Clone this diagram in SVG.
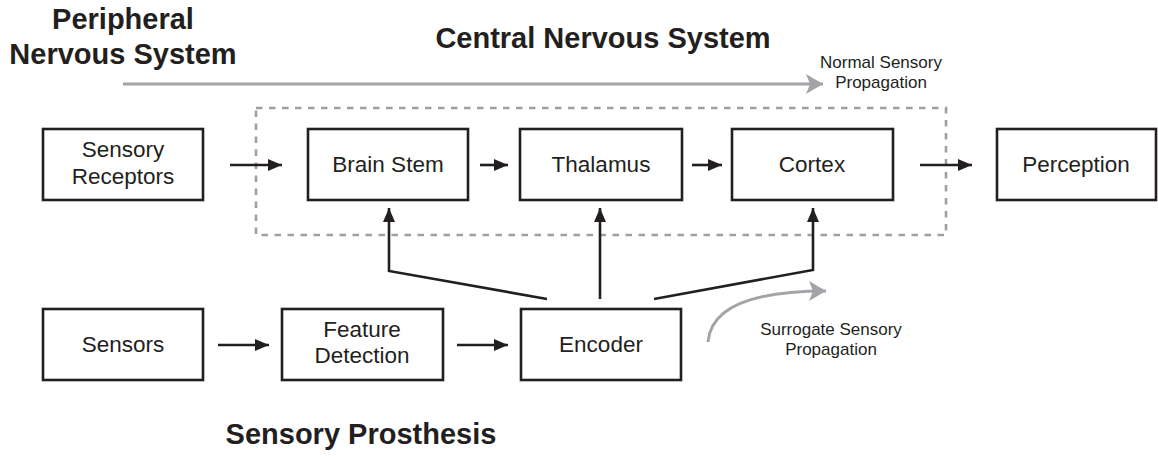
<svg xmlns="http://www.w3.org/2000/svg" width="1158" height="456" viewBox="0 0 1158 456">
<style>
.box{fill:#fff;stroke:#231f20;stroke-width:2.6}
.t{font-family:"Liberation Sans",Arial,sans-serif;font-size:22.5px;fill:#231f20;text-anchor:middle}
.s{font-family:"Liberation Sans",Arial,sans-serif;font-size:17px;fill:#231f20;text-anchor:middle}
.h{font-family:"Liberation Sans",Arial,sans-serif;font-size:29px;font-weight:bold;fill:#231f20;text-anchor:middle}
.k{fill:none;stroke:#231f20;stroke-width:2.6}
.g{fill:none;stroke:#a2a4a7;stroke-width:3}
</style>
<defs>
<marker id="ak" viewBox="0 0 14 12" refX="14" refY="6" markerWidth="14" markerHeight="12" markerUnits="userSpaceOnUse" orient="auto">
<path d="M0,0 L14,6 L0,12 z" fill="#231f20"/>
</marker>
<marker id="ag" viewBox="0 0 17 20" refX="17" refY="10" markerWidth="17" markerHeight="20" markerUnits="userSpaceOnUse" orient="auto">
<path d="M0,0 L17,10 L0,20 L4,10 z" fill="#a2a4a7"/>
</marker>
</defs>
<rect width="1158" height="456" fill="#fff"/>
<g id="titles">
<text class="h" x="123" y="29">Peripheral</text>
<text class="h" x="123" y="64">Nervous System</text>
<text class="h" x="603" y="48">Central Nervous System</text>
<text class="h" x="361" y="444">Sensory Prosthesis</text>
<text class="s" x="881" y="68">Normal Sensory</text>
<text class="s" x="881" y="88">Propagation</text>
<text class="s" x="831" y="335">Surrogate Sensory</text>
<text class="s" x="831" y="355">Propagation</text>
</g>
<rect id="cns" x="256" y="108" width="690" height="127" fill="none" stroke="#9d9fa2" stroke-width="2.6" stroke-dasharray="6.5,6.5"/>
<g id="connectors">
<line class="g" x1="123" y1="84" x2="823" y2="84" marker-end="url(#ag)"/>
<path class="g" d="M708,342 C711,306 755,291 826,291" marker-end="url(#ag)"/>
<line class="k" x1="230" y1="165" x2="282" y2="165" marker-end="url(#ak)"/>
<line class="k" x1="480" y1="165" x2="508" y2="165" marker-end="url(#ak)"/>
<line class="k" x1="692" y1="165" x2="722" y2="165" marker-end="url(#ak)"/>
<line class="k" x1="920" y1="165" x2="972" y2="165" marker-end="url(#ak)"/>
<line class="k" x1="218" y1="345" x2="269" y2="345" marker-end="url(#ak)"/>
<line class="k" x1="457" y1="345" x2="508" y2="345" marker-end="url(#ak)"/>
<polyline class="k" points="547,299 389,271 389,208" marker-end="url(#ak)"/>
<line class="k" x1="600" y1="299" x2="600" y2="208" marker-end="url(#ak)"/>
<polyline class="k" points="654,299 813,270 813,208" marker-end="url(#ak)"/>
</g>
<g id="sensory-receptors"><rect class="box" x="43" y="129" width="160" height="71"/><text class="t" x="123" y="157">Sensory</text><text class="t" x="123" y="184">Receptors</text></g>
<g id="brain-stem"><rect class="box" x="308" y="129" width="160" height="71"/><text class="t" x="388" y="172">Brain Stem</text></g>
<g id="thalamus"><rect class="box" x="520" y="129" width="162" height="71"/><text class="t" x="601" y="172">Thalamus</text></g>
<g id="cortex"><rect class="box" x="732" y="129" width="161" height="71"/><text class="t" x="812" y="172">Cortex</text></g>
<g id="perception"><rect class="box" x="997" y="129" width="159" height="71"/><text class="t" x="1076" y="172">Perception</text></g>
<g id="sensors"><rect class="box" x="43" y="309" width="160" height="71"/><text class="t" x="123" y="352">Sensors</text></g>
<g id="feature-detection"><rect class="box" x="282" y="309" width="161" height="71"/><text class="t" x="362" y="337">Feature</text><text class="t" x="362" y="363">Detection</text></g>
<g id="encoder"><rect class="box" x="521" y="309" width="160" height="71"/><text class="t" x="601" y="352">Encoder</text></g>
</svg>
